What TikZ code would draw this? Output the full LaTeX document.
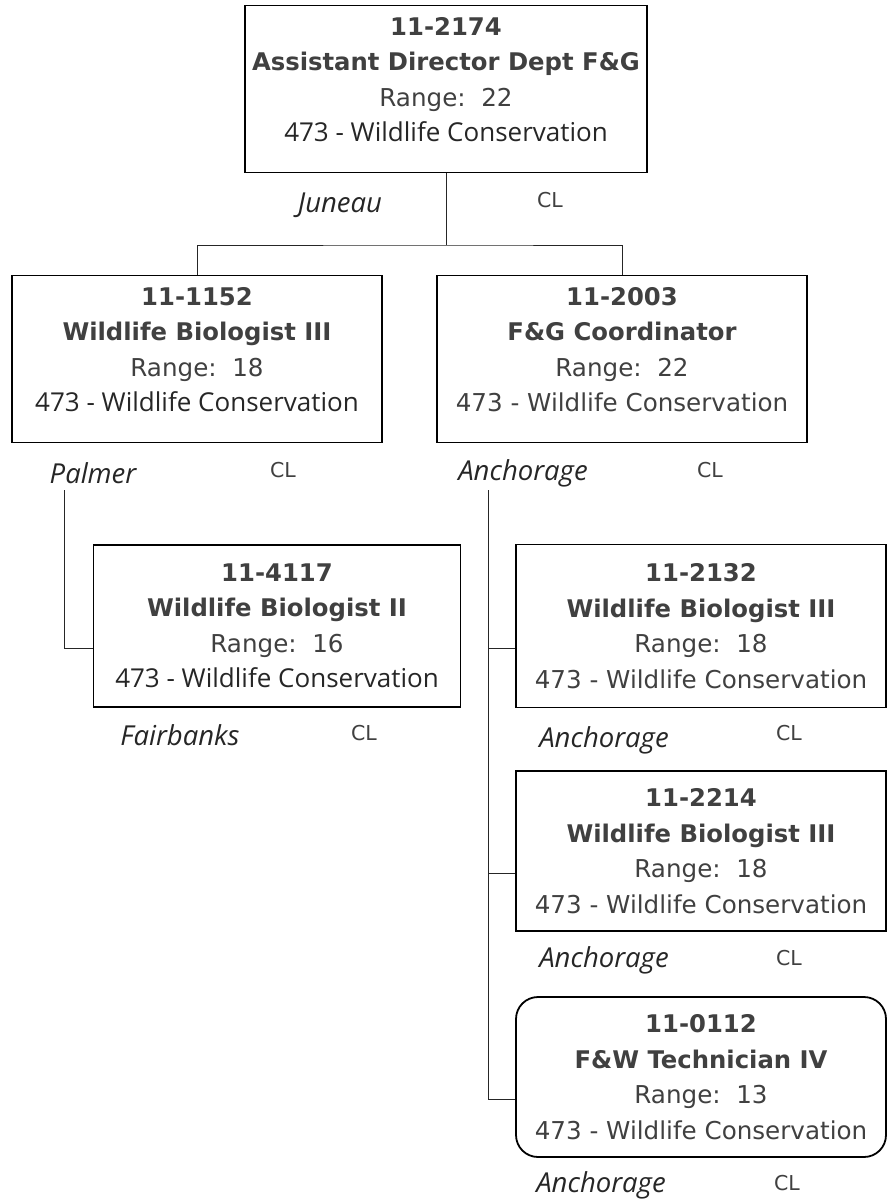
\documentclass[tikz,border=0pt]{standalone}
\usepackage{fontspec}
\setmainfont{DejaVu Sans}
\newfontfamily\osans{Open Sans}
\definecolor{inkgray}{HTML}{404040}
\definecolor{inkdark}{HTML}{262626}
\newcommand{\idline}[1]{{\fontsize{24.3}{35}\selectfont\bfseries #1}}
\newcommand{\unitline}[1]{{\osans\fontsize{26}{35}\selectfont\color{inkdark}#1}}
\tikzset{
  posbox/.style={draw, line width=1.8pt, minimum width=370pt, minimum height=163pt,
    inner sep=0pt, align=center, text=inkgray, font=\fontsize{24.6}{35.5}\selectfont},
  lifted/.style={text depth=19pt},
  loc/.style={font=\osans\itshape\fontsize{27.5}{30}\selectfont, text=inkdark},
  clmark/.style={font=\fontsize{20.5}{24}\selectfont, text=inkgray},
  link/.style={draw=black!85, line width=1pt}
}
\begin{document}
\begin{tikzpicture}[x=1pt,y=-1pt]
\useasboundingbox (0,0) rectangle (888,1204);

% draw position boxes
\node[posbox, lifted, minimum width=402pt, minimum height=167pt] (top) at (446,89) {
  \idline{11-2174}\\ \idline{Assistant Director Dept F\&G}\\
  Range:\ \ 22\\ \unitline{473 - Wildlife Conservation}
};
\node[posbox, lifted, minimum height=167pt] (b1152) at (197,359) {
  \idline{11-1152}\\ \idline{Wildlife Biologist III}\\
  Range:\ \ 18\\ \unitline{473 - Wildlife Conservation}
};
\node[posbox, lifted, minimum height=167pt] (b2003) at (622,359) {
  \idline{11-2003}\\ \idline{F\&G Coordinator}\\
  Range:\ \ 22\\ 473 - Wildlife Conservation
};
\node[posbox, minimum width=367pt, minimum height=162pt] (b4117) at (277,626) {
  \idline{11-4117}\\ \idline{Wildlife Biologist II}\\
  Range:\ \ 16\\ \unitline{473 - Wildlife Conservation}
};
\node[posbox] (b2132) at (701,626) {
  \idline{11-2132}\\ \idline{Wildlife Biologist III}\\
  Range:\ \ 18\\ 473 - Wildlife Conservation
};
\node[posbox, minimum height=160pt] (b2214) at (701,851) {
  \idline{11-2214}\\ \idline{Wildlife Biologist III}\\
  Range:\ \ 18\\ 473 - Wildlife Conservation
};
\node[posbox, minimum height=160pt, rounded corners=22pt] (b0112) at (701,1077) {
  \idline{11-0112}\\ \idline{F\&W Technician IV}\\
  Range:\ \ 13\\ 473 - Wildlife Conservation
};

% draw location and CL labels
\foreach \i/\x/\y/\t in {juneau/340/205/Juneau, palmer/93/473/Palmer,
    anchA/523/473/Anchorage, fairbanks/180/735/Fairbanks, anchB/604/740/Anchorage,
    anchC/604/960/Anchorage, anchD/601/1185/Anchorage}
  \node[loc] (\i) at (\x,\y) {\t};
\foreach \i/\x/\y in {clA/550/200, clB/283/470, clC/710/470, clD/364/733,
    clE/789/733, clF/789/958, clG/787/1183}
  \node[clmark] (\i) at (\x,\y) {CL};

% draw reporting lines
\coordinate (split) at (446,245);
\draw[link] (top) -- (split);
\draw[link] (b1152.north) |- (split) -| (b2003.north);
\coordinate (palmerdrop) at (64,490);
\draw[link] (palmerdrop) |- ([yshift=-22pt]b4117.west);
\coordinate (anchdrop) at (488,490);
\foreach \b in {b2132,b2214,b0112}
  \draw[link] (anchdrop) |- ([yshift=-22pt]\b.west);
\end{tikzpicture}
\end{document}
